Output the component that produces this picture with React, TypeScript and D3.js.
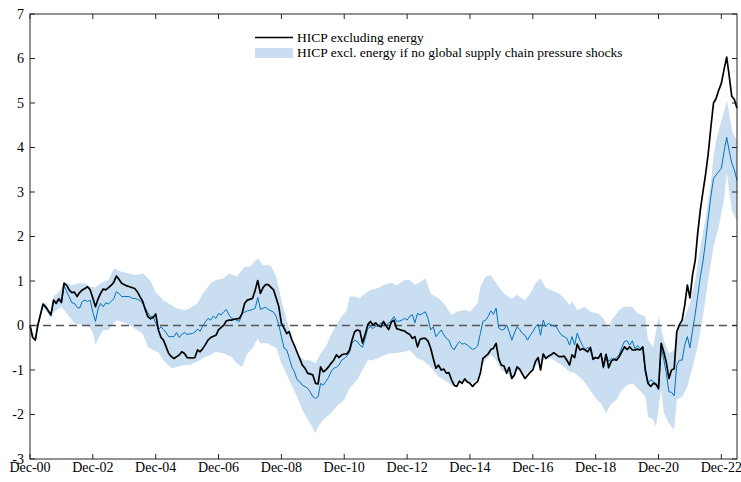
import React from "react";
import * as d3 from "d3";

// month index 0 = Dec-2000
const xTickYears = [2000, 2002, 2004, 2006, 2008, 2010, 2012, 2014, 2016, 2018, 2020, 2022];
const yTickValues = [-3, -2, -1, 0, 1, 2, 3, 4, 5, 6, 7];
const legendLabels = ["HICP excluding energy", "HICP excl. energy if no global supply chain pressure shocks"];

const hicpExEnergy: [number, number][] = [
  [0, 0], [1, -0.27], [2, -0.33], [3, 0], [5, 0.48], [6, 0.42], [8, 0.24], [9, 0.57], [10, 0.5], [11, 0.6], [12, 0.52],
  [13, 0.95], [14, 0.9], [15, 0.8], [16, 0.74], [17, 0.75], [18, 0.65], [19, 0.74], [20, 0.8], [21, 0.83], [22, 0.87],
  [23, 0.8], [24, 0.62], [25, 0.42], [26, 0.6], [27, 0.72], [28, 0.82], [29, 0.8], [30, 0.85], [31, 0.9], [32, 0.97],
  [33, 1.11], [34, 1.04], [35, 0.95], [37, 0.89], [38, 0.87], [40, 0.83], [41, 0.76], [42, 0.65], [43, 0.55], [44, 0.36],
  [45, 0.2], [46, 0.15], [47, 0.18], [48, 0.26], [49, -0.1], [50, -0.27], [51, -0.33], [52, -0.48], [53, -0.63], [54, -0.7],
  [55, -0.74], [57, -0.66], [58, -0.59], [59, -0.63], [60, -0.72], [62, -0.73], [63, -0.72], [64, -0.55], [65, -0.59],
  [66, -0.52], [67, -0.43], [68, -0.33], [69, -0.27], [71, -0.22], [72, -0.1], [73, -0.04], [74, 0.01], [75, 0.1],
  [76, 0.12], [77, 0.12], [78, 0.14], [80, 0.16], [81, 0.27], [82, 0.5], [83, 0.57], [85, 0.61], [86, 0.8], [87, 1.01],
  [88, 0.72], [89, 0.85], [90, 0.92], [91, 0.92], [93, 0.8], [94, 0.62], [95, 0.42], [96, 0.05], [97, -0.06], [98, -0.18],
  [99, -0.14], [100, -0.32], [101, -0.45], [102, -0.6], [103, -0.74], [104, -0.89], [105, -0.96], [106, -1.07],
  [108, -1.11], [109, -1.3], [110, -1.31], [111, -0.93], [112, -1.04], [113, -1.0], [114, -0.93], [115, -0.85],
  [116, -0.78], [117, -0.66], [118, -0.72], [119, -0.66], [120, -0.64], [121, -0.64], [122, -0.55], [123, -0.33],
  [124, -0.14], [125, -0.1], [126, -0.12], [127, -0.39], [128, -0.2], [129, 0.02], [130, 0.09], [131, 0.01], [132, 0.06],
  [133, 0.0], [134, -0.03], [135, 0.09], [136, -0.01], [137, -0.09], [138, 0.08], [139, 0.12], [140, -0.07], [141, -0.09],
  [142, -0.11], [143, -0.12], [144, -0.17], [145, -0.2], [146, -0.29], [147, -0.25], [148, -0.48], [149, -0.31],
  [150, -0.29], [151, -0.29], [152, -0.35], [153, -0.51], [154, -0.74], [155, -0.96], [156, -0.89], [157, -1.0],
  [158, -0.98], [159, -1.07], [160, -1.06], [161, -1.22], [162, -1.34], [163, -1.37], [164, -1.25], [165, -1.3],
  [166, -1.2], [167, -1.27], [168, -1.3], [169, -1.37], [170, -1.3], [171, -1.26], [172, -1.07], [173, -0.74],
  [174, -0.69], [175, -0.64], [176, -0.54], [177, -0.51], [178, -0.4], [179, -0.75], [180, -0.89], [181, -0.91],
  [182, -1.07], [183, -0.94], [184, -1.19], [185, -1.11], [186, -0.93], [187, -0.98], [188, -1.09], [189, -1.19],
  [190, -1.12], [191, -1.05], [192, -1.0], [193, -0.81], [194, -0.72], [195, -1.0], [196, -0.64], [197, -0.74],
  [198, -0.69], [199, -0.66], [200, -0.61], [202, -0.7], [203, -0.7], [204, -0.69], [205, -0.78], [206, -0.89],
  [207, -0.66], [208, -0.72], [209, -0.42], [210, -0.55], [211, -0.52], [212, -0.55], [213, -0.59], [214, -0.49],
  [215, -0.76], [216, -0.72], [217, -0.74], [218, -0.63], [219, -0.93], [220, -0.65], [221, -0.95], [222, -0.8],
  [223, -0.76], [224, -0.78], [225, -0.7], [226, -0.59], [227, -0.48], [228, -0.54], [229, -0.48], [230, -0.55],
  [231, -0.55], [232, -0.53], [233, -0.55], [234, -0.48], [235, -1.0], [236, -1.3], [237, -1.37], [238, -1.3],
  [239, -1.32], [240, -1.41], [241, -0.4], [242, -0.6], [243, -0.83], [244, -1.19], [245, -1.0], [246, -0.97],
  [247, -0.14], [248, 0.02], [249, 0.12], [250, 0.45], [251, 0.91], [252, 0.62], [253, 1.15], [254, 1.47], [255, 2.07],
  [256, 2.6], [257, 3.0], [258, 3.4], [259, 3.85], [260, 4.45], [261, 5.0], [262, 5.1], [263, 5.29], [264, 5.44],
  [265, 5.75], [266, 6.03], [267, 5.63], [268, 5.15], [269, 5.08], [270, 4.88],
];

const noSupplyShock: [number, number][] = [
  [0, 0], [1, -0.27], [2, -0.33], [3, 0], [5, 0.45], [6, 0.4], [8, 0.22], [9, 0.55], [10, 0.48], [11, 0.58], [12, 0.5],
  [13, 0.9], [14, 0.76], [15, 0.65], [16, 0.51], [17, 0.5], [18, 0.41], [19, 0.39], [20, 0.54], [21, 0.57], [22, 0.54],
  [23, 0.57], [24, 0.3], [25, 0.09], [26, 0.38], [27, 0.5], [28, 0.42], [29, 0.51], [30, 0.48], [31, 0.54], [32, 0.6],
  [33, 0.76], [34, 0.72], [35, 0.65], [36, 0.65], [38, 0.65], [39, 0.61], [40, 0.61], [41, 0.59], [42, 0.56], [43, 0.5],
  [44, 0.4], [45, 0.28], [46, 0.2], [47, 0.2], [48, 0.05], [49, -0.09], [50, -0.03], [51, -0.09], [52, -0.16],
  [53, -0.25], [54, -0.25], [55, -0.25], [56, -0.16], [57, -0.27], [58, -0.2], [59, -0.16], [60, -0.2], [62, -0.18],
  [63, -0.15], [64, -0.08], [65, -0.13], [66, -0.01], [67, 0.08], [68, 0.16], [69, 0.12], [70, 0.21], [71, 0.16],
  [72, 0.27], [73, 0.24], [74, 0.31], [75, 0.36], [76, 0.24], [77, 0.16], [78, 0.14], [80, 0.09], [81, 0.27], [82, 0.3],
  [83, 0.33], [84, 0.34], [85, 0.36], [86, 0.39], [87, 0.63], [88, 0.36], [89, 0.39], [90, 0.41], [91, 0.36], [92, 0.33],
  [93, 0.3], [94, 0.2], [95, 0.01], [96, -0.25], [97, -0.51], [98, -0.55], [99, -0.72], [100, -0.93], [101, -1.04],
  [102, -1.22], [103, -1.26], [104, -1.34], [105, -1.37], [106, -1.41], [107, -1.49], [108, -1.6], [109, -1.64],
  [110, -1.6], [111, -1.3], [112, -1.34], [113, -1.26], [114, -1.17], [115, -1.04], [116, -0.96], [117, -0.94],
  [118, -0.89], [119, -0.78], [120, -0.74], [121, -0.69], [122, -0.6], [123, -0.4], [124, -0.33], [125, -0.36],
  [126, -0.44], [127, -0.49], [128, -0.29], [129, -0.07], [130, -0.03], [131, -0.07], [132, -0.01], [133, -0.02],
  [134, 0.06], [135, 0.05], [136, 0.01], [137, 0.05], [138, 0.12], [139, 0.2], [140, 0.09], [141, 0.1], [142, 0.12],
  [143, 0.16], [144, 0.12], [145, 0.21], [146, 0.24], [147, 0.06], [148, 0.27], [149, 0.24], [150, 0.27], [151, 0.31],
  [152, 0.16], [153, -0.1], [154, -0.03], [155, -0.25], [156, -0.18], [157, -0.1], [158, -0.21], [159, -0.29],
  [160, -0.33], [161, -0.48], [162, -0.55], [163, -0.44], [164, -0.36], [165, -0.42], [166, -0.4], [167, -0.44],
  [168, -0.49], [169, -0.54], [170, -0.51], [171, -0.46], [172, -0.18], [173, 0.09], [174, 0.12], [175, 0.2],
  [176, 0.33], [177, 0.25], [178, 0.39], [179, -0.06], [180, -0.1], [181, -0.09], [182, 0.01], [183, -0.14],
  [184, -0.33], [185, -0.17], [186, -0.03], [187, -0.09], [188, -0.18], [189, -0.22], [190, -0.33], [191, -0.22],
  [192, -0.14], [193, -0.03], [194, 0.03], [195, -0.22], [196, 0.12], [197, -0.03], [198, 0.05], [199, 0.01],
  [200, -0.01], [201, -0.03], [202, -0.14], [203, -0.22], [204, -0.25], [205, -0.29], [206, -0.44], [207, -0.25],
  [208, -0.44], [209, -0.17], [210, -0.33], [211, -0.45], [212, -0.54], [213, -0.49], [214, -0.55], [215, -0.72],
  [216, -0.72], [217, -0.72], [218, -0.63], [219, -0.96], [220, -0.64], [221, -0.81], [222, -0.74], [223, -0.76],
  [224, -0.72], [225, -0.66], [226, -0.49], [227, -0.36], [228, -0.34], [229, -0.44], [230, -0.34], [231, -0.52],
  [232, -0.45], [233, -0.52], [234, -0.48], [235, -1.07], [236, -1.3], [237, -1.22], [238, -1.26], [239, -1.3],
  [240, -1.45], [241, -0.48], [242, -0.78], [243, -1.07], [244, -1.49], [245, -1.5], [246, -1.58], [247, -0.89],
  [248, -0.78], [249, -0.78], [250, -0.44], [251, -0.25], [252, -0.5], [253, -0.1], [254, 0.27], [255, 0.65],
  [256, 1.1], [257, 1.43], [258, 1.9], [259, 2.4], [260, 2.9], [261, 3.3], [262, 3.38], [263, 3.46], [264, 3.53],
  [265, 3.9], [266, 4.23], [267, 3.94], [268, 3.65], [269, 3.5], [270, 3.26],
];

const bandUpper: [number, number][] = [
  [0, 0.02], [2, -0.28], [3, 0.05], [5, 0.52], [6, 0.5], [8, 0.3], [9, 0.66], [11, 0.75], [13, 0.99], [16, 0.9],
  [18, 0.95], [21, 0.95], [23, 0.87], [25, 0.86], [27, 0.95], [30, 1.02], [32, 1.28], [35, 1.21], [38, 1.17],
  [40, 1.13], [43, 1.17], [44, 1.13], [46, 1.0], [48, 0.75], [51, 0.57], [54, 0.46], [56, 0.39], [59, 0.34], [61, 0.39],
  [64, 0.5], [66, 0.72], [69, 0.95], [71, 1.02], [74, 1.06], [76, 1.17], [79, 1.1], [82, 1.32], [84, 1.32], [87, 1.51],
  [89, 1.36], [92, 1.35], [94, 1.1], [95, 0.84], [96, 0.57], [98, 0.12], [100, -0.21], [101, -0.48], [103, -0.7],
  [105, -0.78], [107, -0.78], [109, -0.85], [111, -0.63], [113, -0.48], [115, -0.21], [117, 0.01], [119, 0.2],
  [121, 0.35], [122, 0.65], [124, 0.65], [126, 0.61], [128, 0.72], [130, 0.8], [133, 0.84], [135, 0.91], [138, 0.96],
  [140, 0.9], [143, 1.02], [145, 1.02], [147, 0.91], [149, 0.98], [151, 1.06], [153, 0.72], [156, 0.61], [158, 0.5],
  [161, 0.24], [163, 0.31], [166, 0.35], [168, 0.31], [171, 0.5], [172, 0.87], [174, 1.1], [176, 1.13], [179, 0.87],
  [181, 0.72], [184, 0.6], [186, 0.69], [189, 0.57], [191, 0.72], [193, 0.95], [195, 1.06], [197, 0.84], [199, 0.8],
  [202, 0.72], [204, 0.61], [206, 0.46], [207, 0.54], [209, 0.35], [212, 0.42], [214, 0.31], [217, 0.27], [219, 0.16],
  [221, -0.07], [222, 0.12], [225, 0.35], [227, 0.42], [230, 0.42], [232, 0.27], [235, 0.2], [236, -0.33],
  [238, -0.48], [240, 0.2], [242, -0.33], [244, -0.63], [246, -0.55], [247, -0.1], [250, 0.2], [252, 0.5],
  [254, 1.02], [256, 1.77], [258, 2.4], [259, 2.8], [260, 3.2], [261, 3.8], [262, 4.15], [263, 4.39], [264, 4.6],
  [265, 4.8], [266, 5.07], [267, 4.8], [268, 4.4], [269, 4.25], [270, 4.17],
];

const bandLower: [number, number][] = [
  [0, -0.02], [2, -0.36], [3, -0.05], [5, 0.4], [6, 0.35], [8, 0.15], [9, 0.3], [12, 0.42], [15, 0.2], [17, 0.05],
  [20, 0.01], [22, 0.01], [24, -0.16], [25, -0.44], [26, -0.29], [28, -0.1], [30, -0.1], [32, 0.05], [33, 0.12],
  [35, 0.09], [38, 0.01], [40, -0.07], [43, -0.18], [45, -0.48], [47, -0.55], [49, -0.6], [51, -0.78], [54, -0.96],
  [56, -0.93], [59, -0.89], [61, -0.89], [64, -0.81], [66, -0.74], [69, -0.66], [71, -0.59], [74, -0.63], [77, -0.7],
  [79, -0.85], [81, -0.93], [83, -0.63], [85, -0.51], [87, -0.29], [88, -0.4], [91, -0.4], [92, -0.45], [94, -0.5],
  [96, -0.85], [99, -1.22], [102, -1.6], [104, -1.9], [107, -2.2], [109, -2.42], [110, -2.27], [112, -2.12],
  [115, -1.97], [117, -1.82], [120, -1.67], [122, -1.41], [125, -1.22], [127, -1.0], [129, -0.78], [131, -0.78],
  [134, -0.7], [137, -0.63], [140, -0.62], [143, -0.59], [145, -0.55], [148, -0.74], [150, -0.78], [153, -0.93],
  [156, -1.15], [158, -1.22], [161, -1.34], [163, -1.3], [166, -1.26], [168, -1.3], [171, -1.22], [172, -0.93],
  [174, -0.78], [176, -0.66], [178, -0.78], [180, -1.0], [182, -1.07], [184, -1.2], [186, -1.0], [189, -1.11],
  [191, -1.0], [194, -0.85], [196, -0.78], [199, -0.74], [202, -0.85], [204, -0.93], [206, -1.04], [208, -1.07],
  [211, -1.22], [213, -1.37], [216, -1.64], [218, -1.75], [220, -1.97], [222, -1.75], [224, -1.67], [226, -1.45],
  [228, -1.34], [230, -1.3], [232, -1.41], [235, -1.6], [236, -2.05], [238, -2.12], [239, -2.27], [241, -1.45],
  [242, -1.97], [244, -2.2], [246, -2.35], [247, -1.67], [249, -1.6], [251, -1.37], [253, -0.93], [255, -0.48],
  [257, 0.2], [259, 1.02], [261, 1.77], [263, 2.22], [265, 2.82], [266, 3.42], [267, 3.04], [268, 2.6], [270, 2.33],
];

const monthDate = (m: number) => new Date(2000, 11 + m, 1);

export default function App() {
  const W = 741;
  const H = 482;
  const left = 30, right = 737, top = 14, bottom = 459;
  const x = d3.scaleTime().domain([monthDate(0), monthDate(270)]).range([left, right]);
  const y = d3.scaleLinear().domain([-3, 7]).range([bottom, top]);
  const fmt = d3.timeFormat("%b-%y");

  const line = d3
    .line<[number, number]>()
    .x((d) => x(monthDate(d[0])))
    .y((d) => y(d[1]));

  const bandPts: [number, number][] = [...bandUpper, ...bandLower.slice().reverse()];
  const bandPath = line(bandPts) + "Z";

  const axisColor = "#262626";
  const font = "'Liberation Serif', 'Times New Roman', serif";
  const tickLen = 5;
  const xTicks = xTickYears.map((yr) => new Date(yr, 11, 1));

  return (
    <svg width={W} height={H} style={{ position: "absolute", left: 0, top: 0, background: "#fff" }}>
      <rect x={0} y={0} width={W} height={H} fill="#fff" />
      <path d={bandPath} fill="#c9dff1" stroke="none" />
      <line x1={left} x2={right} y1={y(0)} y2={y(0)} stroke="#555" strokeWidth={1.4} strokeDasharray="8,5" />
      <path d={line(noSupplyShock) || ""} fill="none" stroke="#0072bd" strokeWidth={1} />
      <path d={line(hicpExEnergy) || ""} fill="none" stroke="#000" strokeWidth={1.7} strokeLinejoin="round" />

      {/* box */}
      <rect x={left} y={top} width={right - left} height={bottom - top} fill="none" stroke={axisColor} strokeWidth={1} />
      {yTickValues.map((v) => (
        <g key={"y" + v}>
          <line x1={left} x2={left + tickLen} y1={y(v)} y2={y(v)} stroke={axisColor} />
          <line x1={right} x2={right - tickLen} y1={y(v)} y2={y(v)} stroke={axisColor} />
          <text x={left - 6} y={y(v)} dy="0.35em" textAnchor="end" fontFamily={font} fontSize={14} fill="#000">
            {v}
          </text>
        </g>
      ))}
      {xTicks.map((d) => (
        <g key={"x" + d.getFullYear()}>
          <line x1={x(d)} x2={x(d)} y1={bottom} y2={bottom - tickLen} stroke={axisColor} />
          <line x1={x(d)} x2={x(d)} y1={top} y2={top + tickLen} stroke={axisColor} />
          <text x={x(d)} y={472} textAnchor="middle" fontFamily={font} fontSize={14} fill="#000">
            {fmt(d)}
          </text>
        </g>
      ))}

      {/* legend */}
      <line x1={255} x2={293} y1={37.5} y2={37.5} stroke="#000" strokeWidth={1.7} />
      <text x={297} y={42} fontFamily={font} fontSize={13.5} fill="#000">
        {legendLabels[0]}
      </text>
      <rect x={255} y={48} width={38} height={10} fill="#c9dff1" />
      <text x={297} y={57} fontFamily={font} fontSize={13.5} fill="#000">
        {legendLabels[1]}
      </text>
    </svg>
  );
}
